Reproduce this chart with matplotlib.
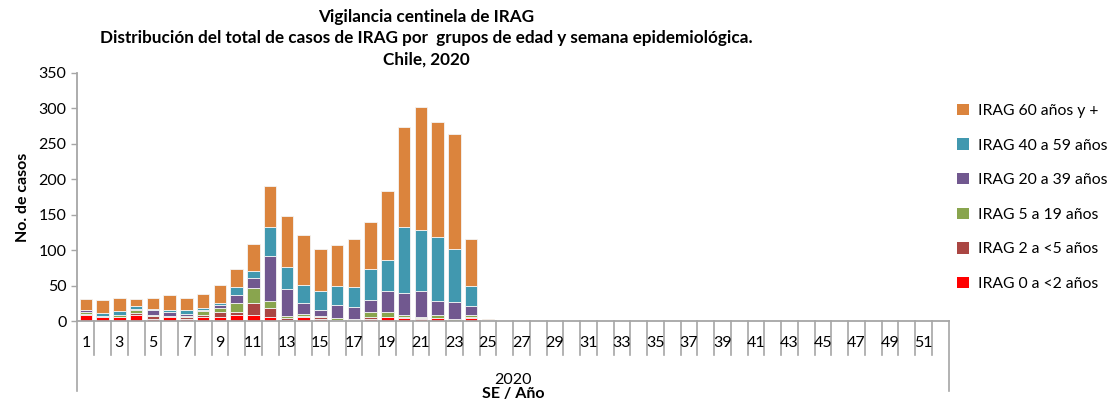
#  Vigilancia centinela de IRAG - casos por grupo de edad y semana
import matplotlib
matplotlib.use("Agg")
import matplotlib.pyplot as plt
import matplotlib.transforms as mtransforms

plt.rcParams["font.family"] = ["Lato", "DejaVu Sans"]

weeks = list(range(1, 53))
tick_labels = [str(w) if w % 2 == 1 else "" for w in weeks]

# values, weeks 1..25 (no cases after week 25)
irag_0_2 = [9, 5, 5, 9, 3, 5, 3, 6, 6, 8, 9, 6, 2, 5, 3, 1, 1, 3, 6, 4, 3, 4, 0, 4, 0] + [0] * 27
irag_2_5 = [1, 0, 1, 2, 4, 2, 2, 3, 7, 5, 17, 12, 2, 2, 2, 1, 1, 3, 0, 2, 1, 0, 0, 2, 0] + [0] * 27
irag_5_19 = [2, 1, 2, 4, 1, 0, 2, 5, 6, 13, 21, 10, 3, 3, 2, 2, 1, 6, 7, 3, 2, 5, 3, 2, 0] + [0] * 27
irag_20_39 = [3, 1, 1, 2, 7, 6, 3, 2, 4, 11, 14, 64, 38, 15, 9, 19, 17, 18, 30, 30, 37, 19, 24, 13, 1] + [0] * 27
irag_40_59 = [1, 4, 5, 4, 2, 3, 6, 2, 3, 11, 10, 40, 31, 26, 27, 26, 28, 44, 43, 93, 85, 90, 74, 29, 1] + [0] * 27
irag_60 = [15, 19, 18, 10, 15, 20, 17, 20, 25, 25, 38, 59, 72, 70, 58, 58, 68, 66, 98, 142, 174, 163, 163, 66, 1] + [0] * 27

series = [
    ("IRAG 0 a <2 años", irag_0_2, "#FF0000"),
    ("IRAG 2 a <5 años", irag_2_5, "#AA4643"),
    ("IRAG 5 a 19 años", irag_5_19, "#89A54E"),
    ("IRAG 20 a 39 años", irag_20_39, "#71588F"),
    ("IRAG 40 a 59 años", irag_40_59, "#4198AF"),
    ("IRAG 60 años y +", irag_60, "#DB843D"),
]

title_lines = [
    "Vigilancia centinela de IRAG",
    "Distribución del total de casos de IRAG por  grupos de edad y semana epidemiológica.",
    "Chile, 2020",
]

fig = plt.figure(figsize=(11.07, 4.01), dpi=100)
ax = fig.add_axes([0.070, 0.1995, 0.787, 0.619])

bottom = [0] * len(weeks)
handles = []
for name, vals, col in series:
    b = ax.bar(weeks, vals, bottom=bottom, width=0.75, color=col,
               edgecolor="#F4F4F4", linewidth=0.6, label=name)
    handles.append(b)
    bottom = [x + y for x, y in zip(bottom, vals)]

axis_col = "#A6A6A6"
ax.set_xlim(0.5, 52.5)
ax.set_ylim(0, 350)
ax.set_yticks(range(0, 351, 50))
ax.tick_params(axis="y", length=4, width=1, color=axis_col, labelsize=11.5, pad=4)
ax.set_xticks([])
for s in ["top", "right"]:
    ax.spines[s].set_visible(False)
for s in ["left", "bottom"]:
    ax.spines[s].set_color(axis_col)
    ax.spines[s].set_linewidth(1.3)
ax.set_ylabel("No. de casos", fontsize=11.5, fontweight="bold", labelpad=6)

# multi-level category axis like the Excel original
trans = mtransforms.blended_transform_factory(ax.transData, ax.transAxes)
for i in range(53):
    x = i + 0.5
    low = -0.283 if i in (0, 52) else -0.137
    ax.plot([x, x], [0, low], color=axis_col, lw=1.2, transform=trans, clip_on=False)
for w, lab in zip(weeks, tick_labels):
    if lab:
        ax.text(w, -0.088, lab, transform=trans, ha="center", va="center", fontsize=11.5)
ax.text(26.5, -0.236, "2020", transform=trans, ha="center", va="center", fontsize=11.5)
ax.text(26.5, -0.293, "SE / Año", transform=trans, ha="center", va="center",
        fontsize=11.5, fontweight="bold")

for line, ypx in zip(title_lines, [17, 38.5, 60]):
    fig.text(0.385, 1 - ypx / 401, line, ha="center", va="center",
             fontsize=12.3, fontweight="bold")

leg = fig.legend(handles[::-1], [s[0] for s in series][::-1], loc="upper left",
                 bbox_to_anchor=(0.859, 0.757), frameon=False, fontsize=11.3,
                 handlelength=0.75, handleheight=0.75, handletextpad=0.55,
                 labelspacing=1.3, borderaxespad=0)
for h in leg.legend_handles:
    h.set_edgecolor("none")

fig.savefig("out.png", dpi=100)
